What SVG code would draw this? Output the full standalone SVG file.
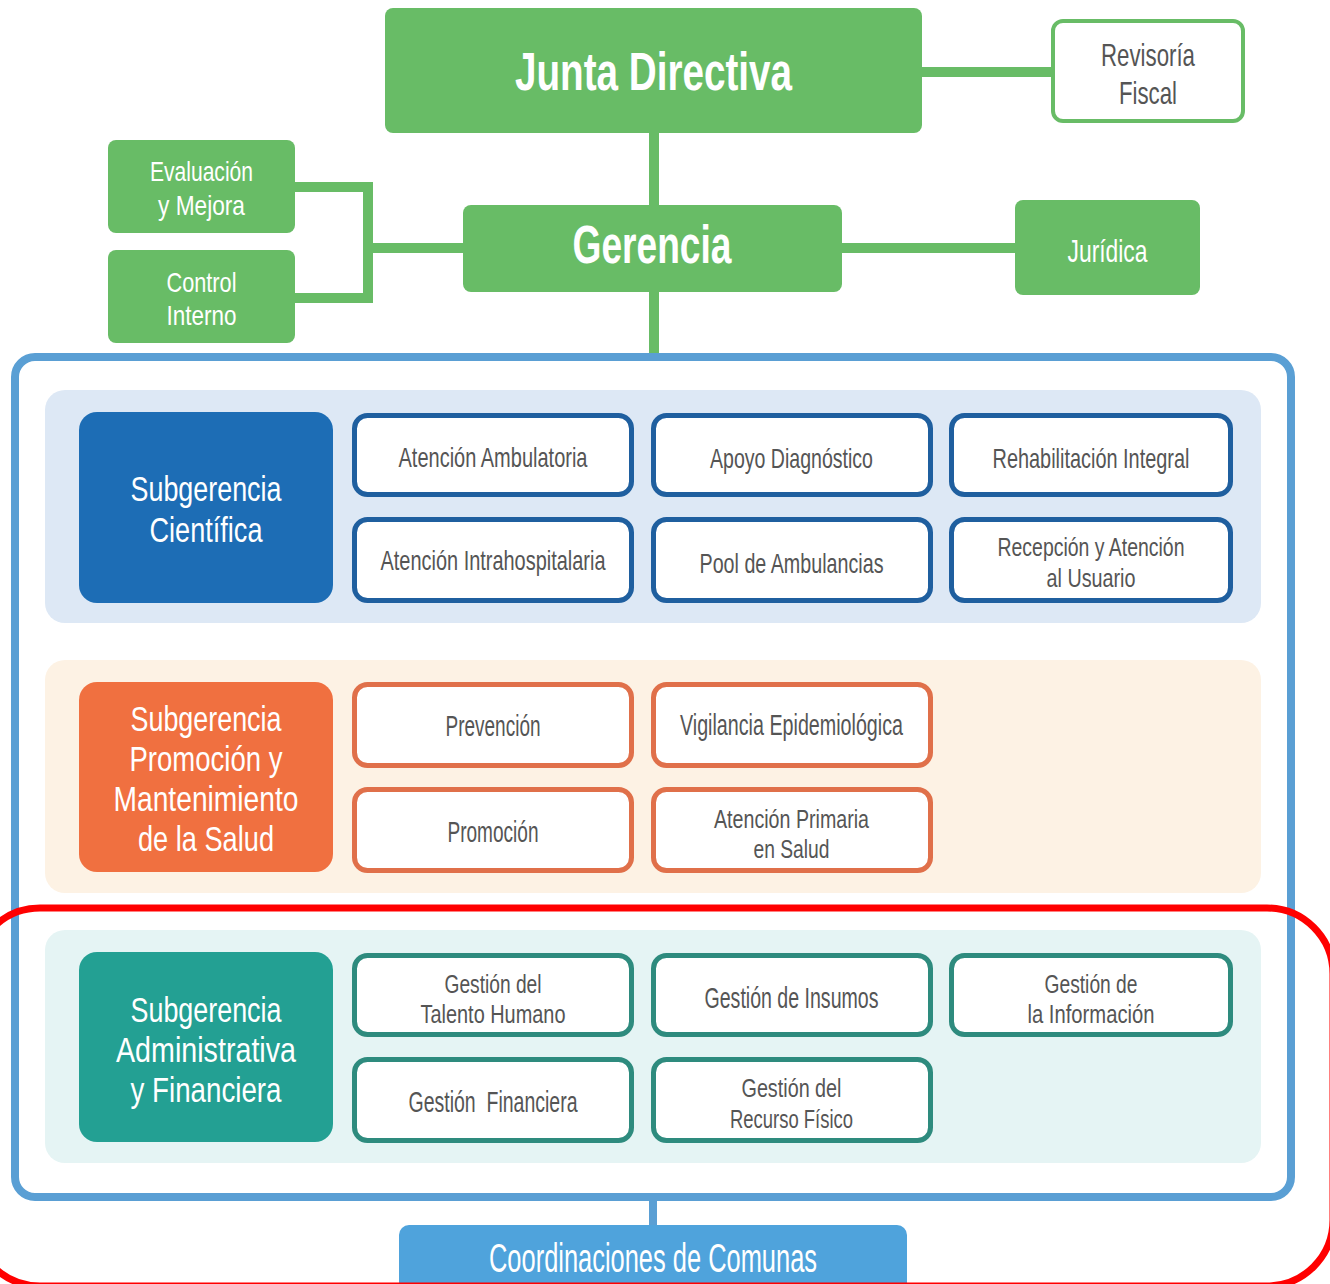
<svg xmlns="http://www.w3.org/2000/svg" width="1330" height="1284" viewBox="0 0 1330 1284">
<style>
text{font-family:"Liberation Sans","DejaVu Sans",sans-serif;text-anchor:middle}
.w{fill:#ffffff}
.g{fill:#555555}
.t1{font-size:54px;font-weight:bold}
.t2{font-size:28px}
.t3{font-size:32px}
.t4{font-size:35px}
.b1{font-size:28px}
.b2{font-size:30px}
.m{font-size:26px}
.green{fill:#68bc66}
.conn{stroke:#68bc66;stroke-width:10;fill:none}
.connb{stroke:#5a9fd4;stroke-width:8;fill:none}
.bx1{fill:#ffffff;stroke:#1f5f9f;stroke-width:5}
.bx2{fill:#ffffff;stroke:#e0704a;stroke-width:5}
.bx3{fill:#ffffff;stroke:#2e8b7e;stroke-width:5}
</style>
<rect x="0" y="0" width="1330" height="1284" fill="#ffffff"/>
<g id="connectors">
<line class="conn" x1="922" y1="72" x2="1051" y2="72"/>
<line class="conn" x1="654" y1="133" x2="654" y2="205"/>
<line class="conn" x1="841" y1="248" x2="1015" y2="248"/>
<polyline class="conn" points="295,187 368,187 368,298 295,298"/>
<line class="conn" x1="368" y1="248" x2="463" y2="248"/>
<line class="conn" x1="654" y1="291" x2="654" y2="357"/>
<line class="connb" x1="653" y1="1197" x2="653" y2="1226"/>
</g>
<g id="junta">
<rect class="green" x="385" y="8" width="537" height="125" rx="8"/>
<text class="w t1" x="653.5" y="90" textLength="277" lengthAdjust="spacingAndGlyphs">Junta Directiva</text>
</g>
<g id="revisoria">
<rect x="1053" y="21" width="190" height="100" rx="10" fill="#ffffff" stroke="#68bc66" stroke-width="4"/>
<text class="g t3" x="1148" y="66" textLength="94" lengthAdjust="spacingAndGlyphs">Revisoría</text>
<text class="g t3" x="1148" y="104" textLength="58" lengthAdjust="spacingAndGlyphs">Fiscal</text>
</g>
<g id="gerencia">
<rect class="green" x="463" y="205" width="379" height="87" rx="8"/>
<text class="w t1" x="652" y="263" textLength="159" lengthAdjust="spacingAndGlyphs">Gerencia</text>
</g>
<g id="juridica">
<rect class="green" x="1015" y="200" width="185" height="95" rx="8"/>
<text class="w t3" x="1107.5" y="262" textLength="80" lengthAdjust="spacingAndGlyphs">Jurídica</text>
</g>
<g id="evaluacion">
<rect class="green" x="108" y="140" width="187" height="93" rx="8"/>
<text class="w t2" x="201.5" y="181" textLength="103" lengthAdjust="spacingAndGlyphs">Evaluación</text>
<text class="w t2" x="201.5" y="215" textLength="87" lengthAdjust="spacingAndGlyphs">y Mejora</text>
</g>
<g id="control">
<rect class="green" x="108" y="250" width="187" height="93" rx="8"/>
<text class="w t2" x="201.5" y="292" textLength="70" lengthAdjust="spacingAndGlyphs">Control</text>
<text class="w t2" x="201.5" y="325" textLength="70" lengthAdjust="spacingAndGlyphs">Interno</text>
</g>
<g id="container">
<rect x="15" y="357" width="1276" height="840" rx="20" fill="#ffffff" stroke="#5a9fd4" stroke-width="8"/>
</g>
<g id="sec-cientifica">
<rect x="45" y="390" width="1216" height="233" rx="20" fill="#dde8f5"/>
<rect x="79" y="412" width="254" height="191" rx="18" fill="#1d6db5"/>
<text class="w t4" x="206" y="501" textLength="151" lengthAdjust="spacingAndGlyphs">Subgerencia</text>
<text class="w t4" x="206" y="542" textLength="113" lengthAdjust="spacingAndGlyphs">Científica</text>
</g>
<g id="atencion-ambulatoria"><rect class="bx1" x="354.5" y="415.5" width="277" height="79" rx="13"/><text class="g b1" x="493" y="467" textLength="189" lengthAdjust="spacingAndGlyphs">Atención Ambulatoria</text></g>
<g id="apoyo-diagnostico"><rect class="bx1" x="653.5" y="415.5" width="277" height="79" rx="13"/><text class="g b1" x="791.5" y="468" textLength="163" lengthAdjust="spacingAndGlyphs">Apoyo Diagnóstico</text></g>
<g id="rehabilitacion"><rect class="bx1" x="951.5" y="415.5" width="279" height="79" rx="13"/><text class="g b1" x="1091" y="468" textLength="197" lengthAdjust="spacingAndGlyphs">Rehabilitación Integral</text></g>
<g id="atencion-intrahospitalaria"><rect class="bx1" x="354.5" y="519.5" width="277" height="81" rx="13"/><text class="g b1" x="493" y="570" textLength="225" lengthAdjust="spacingAndGlyphs">Atención Intrahospitalaria</text></g>
<g id="pool-ambulancias"><rect class="bx1" x="653.5" y="519.5" width="277" height="81" rx="13"/><text class="g b1" x="791.5" y="573" textLength="184" lengthAdjust="spacingAndGlyphs">Pool de Ambulancias</text></g>
<g id="recepcion"><rect class="bx1" x="951.5" y="519.5" width="279" height="81" rx="13"/><text class="g m" x="1091" y="556" textLength="187" lengthAdjust="spacingAndGlyphs">Recepción y Atención</text><text class="g m" x="1091" y="587" textLength="89" lengthAdjust="spacingAndGlyphs">al Usuario</text></g>
<g id="sec-promocion">
<rect x="45" y="660" width="1216" height="233" rx="20" fill="#fdf2e4"/>
<rect x="79" y="682" width="254" height="190" rx="18" fill="#f07040"/>
<text class="w t4" x="206" y="731" textLength="151" lengthAdjust="spacingAndGlyphs">Subgerencia</text>
<text class="w t4" x="206" y="771" textLength="153" lengthAdjust="spacingAndGlyphs">Promoción y</text>
<text class="w t4" x="206" y="811" textLength="185" lengthAdjust="spacingAndGlyphs">Mantenimiento</text>
<text class="w t4" x="206" y="851" textLength="136" lengthAdjust="spacingAndGlyphs">de la Salud</text>
</g>
<g id="prevencion"><rect class="bx2" x="354.5" y="684.5" width="277" height="81" rx="13"/><text class="g b2" x="493" y="736" textLength="95" lengthAdjust="spacingAndGlyphs">Prevención</text></g>
<g id="vigilancia"><rect class="bx2" x="653.5" y="684.5" width="277" height="81" rx="13"/><text class="g b2" x="791.5" y="735" textLength="223" lengthAdjust="spacingAndGlyphs">Vigilancia Epidemiológica</text></g>
<g id="promocion"><rect class="bx2" x="354.5" y="789.5" width="277" height="81" rx="13"/><text class="g b2" x="493" y="842" textLength="91" lengthAdjust="spacingAndGlyphs">Promoción</text></g>
<g id="atencion-primaria"><rect class="bx2" x="653.5" y="789.5" width="277" height="81" rx="13"/><text class="g m" x="791.5" y="828" textLength="155" lengthAdjust="spacingAndGlyphs">Atención Primaria</text><text class="g m" x="791.5" y="858" textLength="76" lengthAdjust="spacingAndGlyphs">en Salud</text></g>
<g id="sec-administrativa">
<rect x="45" y="930" width="1216" height="233" rx="20" fill="#e5f4f4"/>
<rect x="79" y="952" width="254" height="190" rx="18" fill="#23a093"/>
<text class="w t4" x="206" y="1022" textLength="151" lengthAdjust="spacingAndGlyphs">Subgerencia</text>
<text class="w t4" x="206" y="1062" textLength="180" lengthAdjust="spacingAndGlyphs">Administrativa</text>
<text class="w t4" x="206" y="1102" textLength="151" lengthAdjust="spacingAndGlyphs">y Financiera</text>
</g>
<g id="talento-humano"><rect class="bx3" x="354.5" y="955.5" width="277" height="79" rx="13"/><text class="g m" x="493" y="993" textLength="97" lengthAdjust="spacingAndGlyphs">Gestión del</text><text class="g m" x="493" y="1023" textLength="145" lengthAdjust="spacingAndGlyphs">Talento Humano</text></g>
<g id="insumos"><rect class="bx3" x="653.5" y="955.5" width="277" height="79" rx="13"/><text class="g b2" x="791.5" y="1008" textLength="174" lengthAdjust="spacingAndGlyphs">Gestión de Insumos</text></g>
<g id="informacion"><rect class="bx3" x="951.5" y="955.5" width="279" height="79" rx="13"/><text class="g m" x="1091" y="993" textLength="93" lengthAdjust="spacingAndGlyphs">Gestión de</text><text class="g m" x="1091" y="1023" textLength="127" lengthAdjust="spacingAndGlyphs">la Información</text></g>
<g id="financiera"><rect class="bx3" x="354.5" y="1059.5" width="277" height="81" rx="13"/><text class="g b2" x="493" y="1112" textLength="169" lengthAdjust="spacingAndGlyphs" xml:space="preserve">Gestión  Financiera</text></g>
<g id="recurso-fisico"><rect class="bx3" x="653.5" y="1059.5" width="277" height="81" rx="13"/><text class="g m" x="791.5" y="1097" textLength="100" lengthAdjust="spacingAndGlyphs">Gestión del</text><text class="g m" x="791.5" y="1128" textLength="123" lengthAdjust="spacingAndGlyphs">Recurso Físico</text></g>
<g id="coordinaciones">
<rect x="399" y="1225" width="508" height="80" rx="10" fill="#4fa3dc"/>
<text class="w" style="font-size:40px" x="653" y="1272" textLength="328" lengthAdjust="spacingAndGlyphs">Coordinaciones de Comunas</text>
</g>
<rect x="-26" y="908" width="1359" height="378" rx="66" fill="none" stroke="#ff0000" stroke-width="7"/>
</svg>
